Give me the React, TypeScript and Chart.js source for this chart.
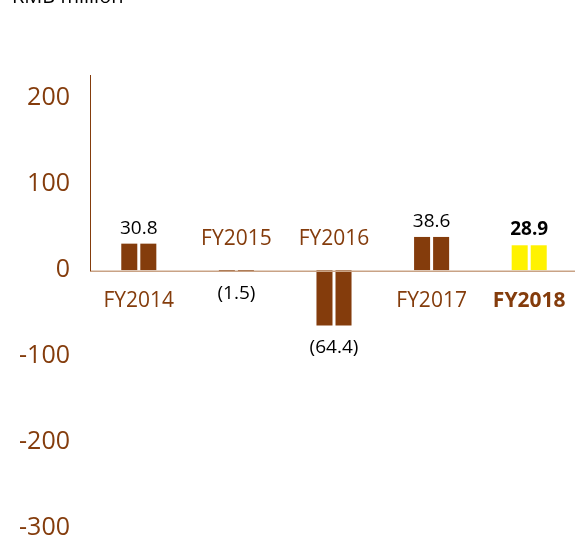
import React, { useEffect, useRef } from "react";
import { Chart, registerables } from "chart.js";

Chart.register(...registerables);

const categories = ["FY2014", "FY2015", "FY2016", "FY2017", "FY2018"];
const values = [30.8, -1.5, -64.4, 38.6, 28.9];
const valueLabels = ["30.8", "(1.5)", "(64.4)", "38.6", "28.9"];
const highlight = [false, false, false, false, true];
const yTicks = [-300, -200, -100, 0, 100, 200];
const unitLabel = "RMB million";

const BROWN = "#843c0c";
const YELLOW = "#fff200";
const AXIS_LIGHT = "#c9a386";
const FONT = "'Open Sans', sans-serif";

const overlay = {
  id: "overlay",
  afterDatasetsDraw(chart: any) {
    const { ctx, chartArea } = chart;
    const xs = chart.scales.x;
    const ys = chart.scales.y;
    const y0 = ys.getPixelForValue(0);
    ctx.save();
    // zero line
    ctx.strokeStyle = AXIS_LIGHT;
    ctx.lineWidth = 1.5;
    ctx.beginPath();
    ctx.moveTo(chartArea.left, y0 + 1);
    ctx.lineTo(Math.min(chartArea.right, 575), y0 + 1);
    ctx.stroke();
    // vertical axis (positive part only)
    ctx.strokeStyle = BROWN;
    ctx.lineWidth = 1;
    ctx.beginPath();
    ctx.moveTo(chartArea.left + 0.5, chartArea.top);
    ctx.lineTo(chartArea.left + 0.5, y0 + 1);
    ctx.stroke();

    ctx.textAlign = "center";
    ctx.textBaseline = "alphabetic";
    categories.forEach((cat, i) => {
      const cx = xs.getPixelForValue(i);
      const v = values[i];
      const bold = highlight[i];
      const yv = ys.getPixelForValue(v);
      ctx.fillStyle = "#000";
      ctx.font = `${bold ? "bold " : ""}19px ${FONT}`;
      if (v >= 0) {
        ctx.fillText(valueLabels[i], cx, yv - 10);
      } else {
        ctx.fillText(valueLabels[i], cx, yv + 28);
      }
      ctx.fillStyle = BROWN;
      ctx.font = `${bold ? "bold " : ""}21px ${FONT}`;
      ctx.fillText(cat, cx, v >= 0 ? y0 + 37 : y0 - 25);
    });

    ctx.textAlign = "left";
    ctx.fillStyle = "#000";
    ctx.font = `20px ${FONT}`;
    ctx.fillText(unitLabel, 12, 3);
    ctx.restore();
  },
};

export default function App() {
  const ref = useRef<HTMLCanvasElement>(null);

  useEffect(() => {
    document.body.style.margin = "0";
    const canvas = ref.current;
    if (!canvas) return;
    const colors = highlight.map((h) => (h ? YELLOW : BROWN));
    const chart = new Chart(canvas, {
      type: "bar",
      data: {
        labels: categories,
        datasets: [
          {
            data: values,
            backgroundColor: colors,
            categoryPercentage: 0.39,
            barPercentage: 0.842,
          },
          {
            data: values,
            backgroundColor: colors,
            categoryPercentage: 0.39,
            barPercentage: 0.842,
          },
        ],
      },
      options: {
        responsive: false,
        animation: false,
        layout: { padding: { top: 75, bottom: 9, left: 0, right: 0 } },
        plugins: {
          legend: { display: false },
          tooltip: { enabled: false },
        },
        scales: {
          x: {
            display: false,
            grid: { display: false },
          },
          y: {
            min: -300,
            max: 227,
            grid: { display: false, drawTicks: false },
            border: { display: false },
            ticks: {
              color: BROWN,
              font: { family: FONT, size: 25 },
              padding: 20,
            },
            afterBuildTicks: (scale: any) => {
              scale.ticks = yTicks.map((v) => ({ value: v }));
            },
            afterFit: (scale: any) => {
              scale.width = 90;
              scale.paddingTop = 0;
              scale.paddingBottom = 0;
            },
          },
        },
      },
      plugins: [overlay],
    });
    return () => chart.destroy();
  }, []);

  return (
    <div style={{ width: 578, height: 537 }}>
      <canvas ref={ref} width={578} height={537} />
    </div>
  );
}
